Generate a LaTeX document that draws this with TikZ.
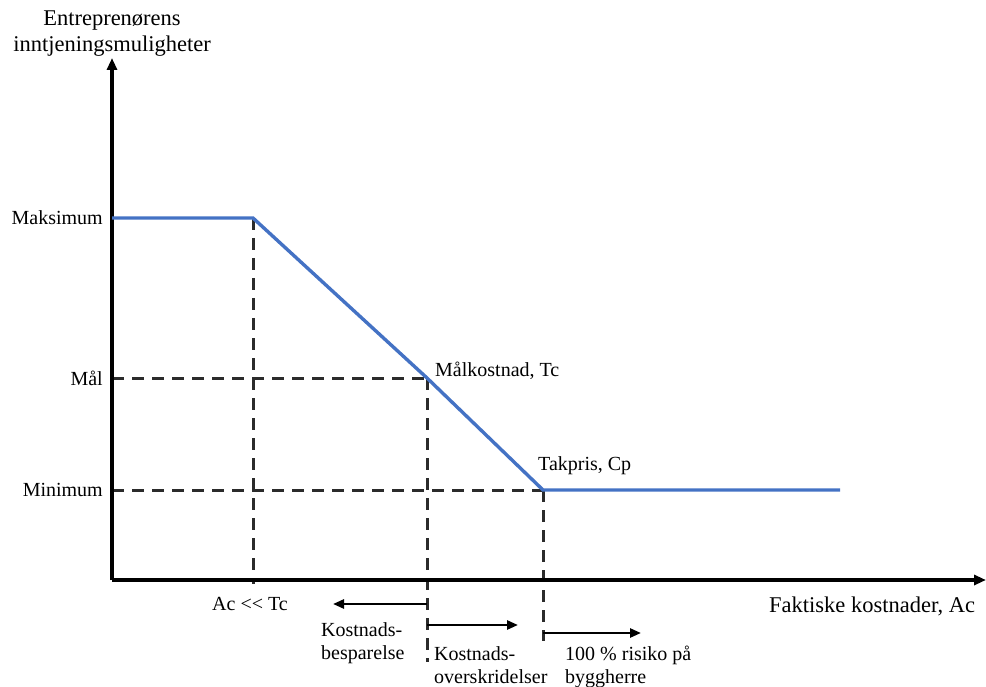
\documentclass[tikz,border=0pt]{standalone}
\usepackage{fontspec}
\setmainfont{Liberation Serif}
\usetikzlibrary{arrows.meta}
\definecolor{lineblue}{HTML}{4472C4}
\definecolor{guidegray}{HTML}{2B2B2B}
\tikzset{
  axis/.style={line width=3.6pt, -{Triangle[length=12pt,width=10pt]}},
  curve/.style={line width=3.4pt, lineblue, line join=miter},
  guide/.style={line width=3pt, guidegray, dash pattern=on 12pt off 8pt},
  span/.style={line width=2.5pt, -{Triangle[length=11pt,width=9pt]}},
  lbl/.style={font=\fontsize{20}{23}\selectfont, inner sep=0pt},
  bigl/.style={font=\fontsize{22.5}{26}\selectfont, inner sep=0pt},
}
\begin{document}
\begin{tikzpicture}[x=1pt,y=-1pt]
\useasboundingbox (0,0) rectangle (986,687);

% key points
\coordinate (O) at (112,580);
\coordinate (ytop) at (112,58);
\coordinate (xend) at (986,580);
\coordinate (pmax0) at (112,218);
\coordinate (pmax) at (253,218);
\coordinate (ptc) at (427,378);
\coordinate (pcp) at (543,490);
\coordinate (pend) at (840,490);
\coordinate (ymal) at (112,378);
\coordinate (ymin) at (112,490);
\coordinate (bmax) at (253,584);
\coordinate (btc) at (427,662);
\coordinate (bcp) at (543,641);

% guide lines
\draw[guide] (ymal) -- (ptc);
\draw[guide] (ymin) -- (pcp);
\draw[guide] (pmax) -- (bmax);
\draw[guide] (ptc) -- (btc);
\draw[guide] (pcp) -- (bcp);

% axes
\draw[axis] (O) -- (ytop);
\draw[axis] (O) -- (xend);

% earnings curve
\draw[curve] (pmax0) -- (pmax) -- (ptc) -- (pcp) -- (pend);

% range arrows
\coordinate (a1s) at (427,604);
\coordinate (a1e) at (333,604);
\coordinate (a2s) at (427,625);
\coordinate (a2e) at (518,625);
\coordinate (a3s) at (543,633);
\coordinate (a3e) at (641,633);
\draw[span] (a1s) -- (a1e);
\draw[span] (a2s) -- (a2e);
\draw[span] (a3s) -- (a3e);

% labels
\node[bigl, align=center, anchor=north] (ytitle) at (112,11) {Entreprenørens\\inntjeningsmuligheter};
\node[lbl, anchor=east] (lmax) at (103,218) {Maksimum};
\node[lbl, anchor=east] (lmal) at (103,378) {Mål};
\node[lbl, anchor=east] (lmin) at (103,490) {Minimum};
\node[lbl, anchor=base west] (ltc) at (435,376) {Målkostnad, Tc};
\node[lbl, anchor=base west] (lcp) at (538,470) {Takpris, Cp};
\node[lbl, anchor=base west] (lac) at (212,610) {Ac {<}{<} Tc};
\node[bigl, anchor=base west] (lx) at (769,612) {Faktiske kostnader, Ac};
\node[lbl, align=left, anchor=north west] (lsave) at (321,622) {Kostnads-\\besparelse};
\node[lbl, align=left, anchor=north west] (lover) at (434,646) {Kostnads-\\overskridelser};
\node[lbl, align=left, anchor=north west] (lrisk) at (565,646) {100 \% risiko på\\byggherre};
\end{tikzpicture}
\end{document}
